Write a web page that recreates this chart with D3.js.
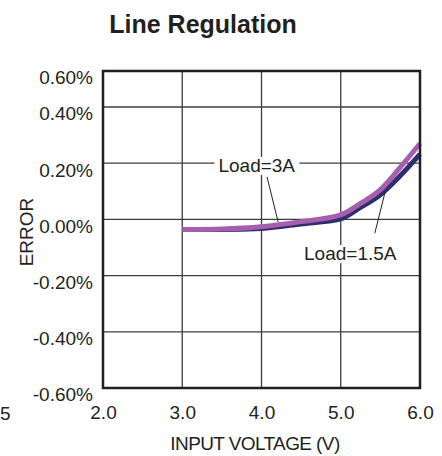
<!DOCTYPE html>
<html>
<head>
    <meta charset="utf-8" />
    <title>Line Regulation</title>
    <script src="https://d3js.org/d3.v7.min.js"></script>
    <style>
        body { margin: 0; background: #fff; }
        text { font-family: "Liberation Sans", Arial, sans-serif; fill: #231f20; }
        .tick text { font-size: 19px; }
    </style>
</head>
<body>
    <div id="chart"></div>

    <script>
        // data
        var voltage = [3.0, 3.5, 4.0, 4.5, 5.0, 5.25, 5.5, 5.75, 6.0];
        var load3A = [-0.036, -0.034, -0.026, -0.008, 0.016, 0.057, 0.106, 0.185, 0.27];
        var load15A = [-0.036, -0.036, -0.032, -0.016, 0.002, 0.043, 0.088, 0.155, 0.232];

        var xTicks = [2.0, 3.0, 4.0, 5.0, 6.0];
        var yTicks = [-0.6, -0.4, -0.2, 0.0, 0.2, 0.4, 0.6];

        // label positions in data units: text anchor, leader start, leader end
        var labels3A = { text: "Load=3A", x: 3.94, y: 0.169, x1: 4.07, y1: 0.151, x2: 4.21, y2: -0.009 };
        var labels15A = { text: "Load=1.5A", x: 5.12, y: -0.145, x1: 5.43, y1: -0.049, x2: 5.56, y2: 0.098 };

        var W = 442, H = 456;
        var svg = d3.select("#chart").append("svg")
            .attr("width", W)
            .attr("height", H);

        // plot frame in the original runs 2..6 V and the top band is squeezed
        var x = d3.scaleLinear().domain([2, 6]).range([103, 420]);
        var y = d3.scaleLinear().domain([-0.6, 0.4, 0.6]).range([388, 107, 71]);

        // title
        svg.append("text")
            .attr("x", 203)
            .attr("y", 33)
            .attr("text-anchor", "middle")
            .style("font-size", "25px")
            .style("font-weight", "bold")
            .text("Line Regulation");

        // grid
        svg.append("g").selectAll("line")
            .data(xTicks.slice(1, -1))
            .join("line")
            .attr("x1", function (d) { return x(d); })
            .attr("x2", function (d) { return x(d); })
            .attr("y1", y(0.6))
            .attr("y2", y(-0.6))
            .attr("stroke", "#3c3c3c")
            .attr("stroke-width", 1.3);

        svg.append("g").selectAll("line")
            .data(yTicks.slice(1, -1))
            .join("line")
            .attr("x1", x(2))
            .attr("x2", x(6))
            .attr("y1", function (d) { return y(d); })
            .attr("y2", function (d) { return y(d); })
            .attr("stroke", "#3c3c3c")
            .attr("stroke-width", 1.3);

        // axes (labels only, frame drawn separately)
        var fmtY = function (d) { return d.toFixed(2) + "%"; };
        var yAxisEl = svg.append("g")
            .attr("transform", "translate(" + x(2) + ",0)")
            .call(d3.axisLeft(y).tickValues(yTicks).tickFormat(fmtY).tickSize(0).tickPadding(10));
        yAxisEl.select(".domain").remove();
        yAxisEl.selectAll("text").attr("dy", "0.68em").attr("fill", "#231f20");

        var xAxisEl = svg.append("g")
            .attr("transform", "translate(0," + y(-0.6) + ")")
            .call(d3.axisBottom(x).tickValues(xTicks).tickFormat(function (d) { return d.toFixed(1); }).tickSize(0).tickPadding(18));
        xAxisEl.select(".domain").remove();
        xAxisEl.selectAll("text").attr("fill", "#231f20");

        // cut-off tick label left over from the neighbouring chart
        svg.append("text")
            .attr("x", 0)
            .attr("y", 420)
            .style("font-size", "19px")
            .text("5");

        // axis titles
        svg.append("text")
            .attr("x", 255)
            .attr("y", 450)
            .attr("text-anchor", "middle")
            .style("font-size", "19px")
            .style("letter-spacing", "-0.6px")
            .text("INPUT VOLTAGE (V)");

        svg.append("text")
            .attr("transform", "translate(33,232) rotate(-90)")
            .attr("text-anchor", "middle")
            .style("font-size", "19px")
            .text("ERROR");

        // curves
        var line = d3.line()
            .x(function (d) { return x(d[0]); })
            .y(function (d) { return y(d[1]); })
            .curve(d3.curveMonotoneX);

        svg.append("path")
            .datum(d3.zip(voltage, load15A))
            .attr("fill", "none")
            .attr("stroke", "#2d2f6d")
            .attr("stroke-width", 5)
            .attr("d", line);

        svg.append("path")
            .datum(d3.zip(voltage, load3A))
            .attr("fill", "none")
            .attr("stroke", "#a55fae")
            .attr("stroke-width", 5)
            .attr("d", line);

        // annotations with white box behind
        [labels3A, labels15A].forEach(function (a) {
            svg.append("line")
                .attr("x1", x(a.x1)).attr("y1", y(a.y1))
                .attr("x2", x(a.x2)).attr("y2", y(a.y2))
                .attr("stroke", "#231f20")
                .attr("stroke-width", 1);
            var t = svg.append("text")
                .attr("x", x(a.x))
                .attr("y", y(a.y))
                .attr("text-anchor", "middle")
                .style("font-size", "19px")
                .text(a.text);
            var bb = t.node().getBBox();
            svg.insert("rect", function () { return t.node(); })
                .attr("x", bb.x - 4)
                .attr("y", bb.y + 2)
                .attr("width", bb.width + 8)
                .attr("height", bb.height - 3)
                .attr("fill", "#fff");
        });

        // frame
        svg.append("rect")
            .attr("x", x(2))
            .attr("y", y(0.6))
            .attr("width", x(6) - x(2))
            .attr("height", y(-0.6) - y(0.6))
            .attr("fill", "none")
            .attr("stroke", "#231f20")
            .attr("stroke-width", 2.5);
    </script>
</body>
</html>
